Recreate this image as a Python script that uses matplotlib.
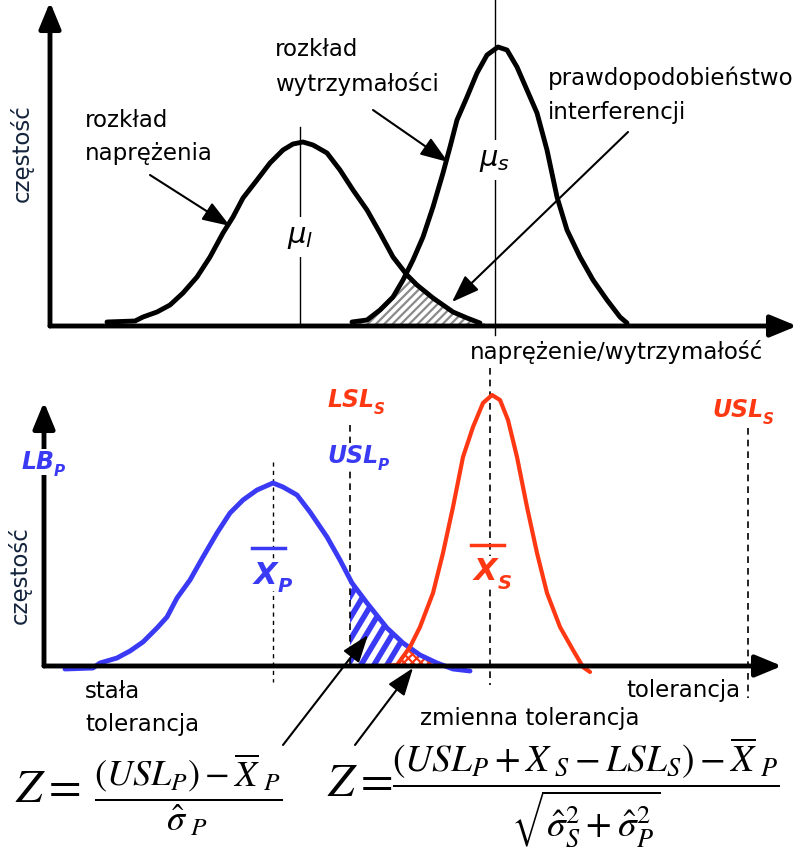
import numpy as np
import matplotlib
matplotlib.use('Agg')
import matplotlib.pyplot as plt
from matplotlib.patches import Polygon

# ---- data (pixel-like units, y grows downwards) ----
# top panel: stress and strength distributions
stress_x = [107, 135, 143, 157, 170, 183, 197, 210, 223, 233, 243, 257, 270,
            283, 293, 303, 313, 327, 340, 353, 367, 380, 393, 407, 417, 433,
            453, 467, 480]
stress_y = [322, 321, 317, 312, 305, 293, 277, 257, 233, 217, 198, 180, 163,
            150, 144, 142, 145, 153, 170, 190, 210, 233, 257, 275, 285, 298,
            312, 318, 323]
strength_x = [352, 367, 380, 393, 403, 413, 423, 433, 443, 450, 457, 467, 477,
              487, 498, 507, 517, 527, 537, 547, 557, 567, 580, 593, 607, 620,
              627]
strength_y = [322, 320, 310, 297, 280, 260, 237, 207, 173, 147, 120, 97, 73,
              55, 47, 50, 67, 90, 113, 150, 197, 230, 257, 280, 300, 317, 323]
mu_l = 300
mu_s = 495

# bottom panel: part (P, blue) and specification (S, red) distributions
part_x = [65, 93, 100, 117, 130, 143, 157, 167, 177, 190, 203, 217, 230, 243,
          257, 273, 283, 297, 310, 327, 340, 352, 367, 387, 403, 420, 437,
          453, 470]
part_y = [669, 668, 663, 658, 651, 642, 628, 617, 598, 580, 557, 533, 513, 500,
          490, 483, 487, 495, 512, 537, 560, 583, 603, 628, 643, 655, 663,
          669, 671]
spec_x = [385, 397, 410, 420, 433, 443, 453, 463, 473, 483, 492, 500, 508,
          517, 527, 537, 547, 560, 573, 583, 590]
spec_y = [666, 665, 647, 627, 593, 553, 507, 457, 427, 403, 395, 400, 420,
          457, 507, 553, 593, 627, 650, 667, 672]
xbar_p = 273
usl_p = 350
xbar_s = 490
usl_s = 748

NAVY = '#14243c'
BLUE = '#3a3af5'
RED = '#ff3814'
FS = 16.5

plt.rcParams['font.family'] = ['DejaVu Sans']
plt.rcParams['hatch.linewidth'] = 1.6

fig = plt.figure(figsize=(8.05, 8.58), dpi=100)
ax = fig.add_axes([0, 0, 1, 1])
ax.set_xlim(0, 805)
ax.set_ylim(858, 0)
ax.axis('off')


def axis_arrow(x0, y0, x1, y1):
    ax.annotate('', xy=(x1, y1), xytext=(x0, y0),
                arrowprops=dict(arrowstyle='-|>,head_length=0.8,head_width=0.33',
                                mutation_scale=20, lw=3.5, color='k',
                                shrinkA=0, shrinkB=0), zorder=4)


def pointer(x0, y0, x1, y1):
    ax.annotate('', xy=(x1, y1), xytext=(x0, y0),
                arrowprops=dict(arrowstyle='-|>,head_length=1.0,head_width=0.36',
                                mutation_scale=17, lw=1.5, color='k',
                                shrinkA=0, shrinkB=0), zorder=6)


def sub_label(x, y, main, sub, color, size, subsize, bg=True):
    kw = dict(color=color, fontweight='bold', fontstyle='italic', zorder=7)
    t = ax.text(x, y, main, fontsize=size, ha='left', va='center', **kw)
    if bg:
        t.set_bbox(dict(fc='white', ec='none', pad=1))
    ax.annotate(sub, xy=(1.0, 0.12), xycoords=t, fontsize=subsize,
                ha='left', va='center', **kw)
    return t


# ================= top panel =================
xs = np.linspace(355, 485, 150)
top = np.maximum(np.interp(xs, stress_x, stress_y),
                 np.interp(xs, strength_x, strength_y))
ax.fill_between(xs, 325, top, where=top < 325, facecolor='white',
                edgecolor='#8a8a8a', hatch='////', lw=0, zorder=1)

ax.plot([mu_l, mu_l], [127, 325], color='k', lw=1, zorder=2)
ax.plot([mu_s, mu_s], [0, 335], color='k', lw=1, zorder=2)
ax.plot(stress_x, stress_y, color='k', lw=3.5, solid_joinstyle='round',
        solid_capstyle='round', zorder=3)
ax.plot(strength_x, strength_y, color='k', lw=3.5, solid_joinstyle='round',
        solid_capstyle='round', zorder=3)

axis_arrow(50, 326, 797, 326)
axis_arrow(50, 326, 50, 2)

ax.text(mu_l, 237, r'$\mu_l$', fontsize=21, ha='center', va='center',
        bbox=dict(fc='white', ec='none', pad=4), zorder=5)
ax.text(mu_s, 160, r'$\mu_s$', fontsize=21, ha='center', va='center',
        bbox=dict(fc='white', ec='none', pad=4), zorder=5)

ax.text(22, 153, 'częstość', rotation=90, fontsize=FS, color=NAVY,
        ha='center', va='center')
ax.text(85, 137, 'rozkład\nnaprężenia', fontsize=FS, ha='left', va='center',
        linespacing=1.6)
ax.text(275, 67, 'rozkład\nwytrzymałości', fontsize=FS, ha='left', va='center',
        linespacing=1.6)
ax.text(548, 95, 'prawdopodobieństwo\ninterferencji', fontsize=FS, ha='left',
        va='center', linespacing=1.6)
ax.text(470, 352, 'naprężenie/wytrzymałość', fontsize=FS, ha='left', va='center')

pointer(150, 175, 230, 226)
pointer(373, 110, 448, 162)
pointer(628, 132, 452, 302)

# ================= bottom panel =================
yb_at = np.interp(usl_p, part_x, part_y)
px = [usl_p] + [x for x in part_x if x > usl_p]
py = [yb_at] + [y for x, y in zip(part_x, part_y) if x > usl_p]
region = Polygon(list(zip(px, py)) + [(px[-1], 665), (usl_p, 665)],
                 closed=True, fc='none', ec='none', transform=ax.transData)
ax.add_patch(region)
for c in np.arange(usl_p - 80, 480, 13):
    ln, = ax.plot([c, c + 60], [665, 565], color=BLUE, lw=4, zorder=1)
    ln.set_clip_path(region)

xo = np.linspace(385, 470, 120)
ov = np.maximum(np.interp(xo, part_x, part_y), np.interp(xo, spec_x, spec_y))
ax.fill_between(xo, 665, ov, where=ov < 665, facecolor='white',
                edgecolor=RED, hatch='xxxx', lw=0, zorder=1.5)

ax.plot([xbar_p, xbar_p], [462, 682], color='k', lw=1, ls=(0, (3, 3)), zorder=2)
ax.plot([usl_p, usl_p], [425, 668], color='k', lw=1.2, ls=(0, (4, 3)), zorder=2)
ax.plot([xbar_s, xbar_s], [368, 685], color='k', lw=1.2, ls=(0, (4, 3)), zorder=2)
ax.plot([usl_s, usl_s], [428, 698], color='k', lw=1.2, ls=(0, (4, 3)), zorder=2)

ax.plot(part_x, part_y, color=BLUE, lw=3.5, solid_joinstyle='round',
        solid_capstyle='round', zorder=3)
ax.plot(spec_x, spec_y, color=RED, lw=3, solid_joinstyle='round',
        solid_capstyle='round', zorder=3)

axis_arrow(44, 666, 782, 666)
axis_arrow(44, 666, 44, 402)

ax.text(20, 575, 'częstość', rotation=90, fontsize=FS, color=NAVY,
        ha='center', va='center')

sub_label(327, 400, 'LSL', 'S', RED, 17, 11)
sub_label(327, 456, 'USL', 'P', BLUE, 17, 11)
sub_label(21, 462, 'LB', 'P', BLUE, 17, 11)
sub_label(712, 410, 'USL', 'S', RED, 17, 11)

sub_label(254, 575, 'X', 'P', BLUE, 22, 14)
ax.plot([252, 285], [548, 548], color=BLUE, lw=2.5, zorder=8)
sub_label(474, 572, 'X', 'S', RED, 22, 14)
ax.plot([471, 504], [545, 545], color=RED, lw=2.5, zorder=8)

ax.text(85, 708, 'stała\ntolerancja', fontsize=FS, ha='left', va='center',
        linespacing=1.6)
ax.text(626, 690, 'tolerancja', fontsize=FS, ha='left', va='center')
ax.text(420, 718, 'zmienna tolerancja', fontsize=FS, ha='left', va='center')

pointer(283, 745, 368, 635)
pointer(355, 745, 413, 668)

f1 = r'$\dfrac{\left(USL_P\right)-\overline{X}_{\ P}}{\hat{\sigma}_{\ P}}$'
f2 = (r'$\dfrac{\left(USL_P+X_{\ S}-LSL_S\right)-\overline{X}_{\ P}}'
      r'{\sqrt{\hat{\sigma}_S^2+\hat{\sigma}_P^2}}$')
ax.text(15, 790, r'$Z=$', fontsize=34, math_fontfamily='stix', ha='left',
        va='center', zorder=6)
ax.text(94, 795, f1, fontsize=26, math_fontfamily='stix', ha='left',
        va='center', zorder=6)
ax.text(327, 784, r'$Z=$', fontsize=34, math_fontfamily='stix', ha='left',
        va='center', zorder=6)
ax.text(392, 792, f2, fontsize=27, math_fontfamily='stix', ha='left',
        va='center', zorder=6)

fig.savefig('out.png', dpi=100, facecolor='white')
